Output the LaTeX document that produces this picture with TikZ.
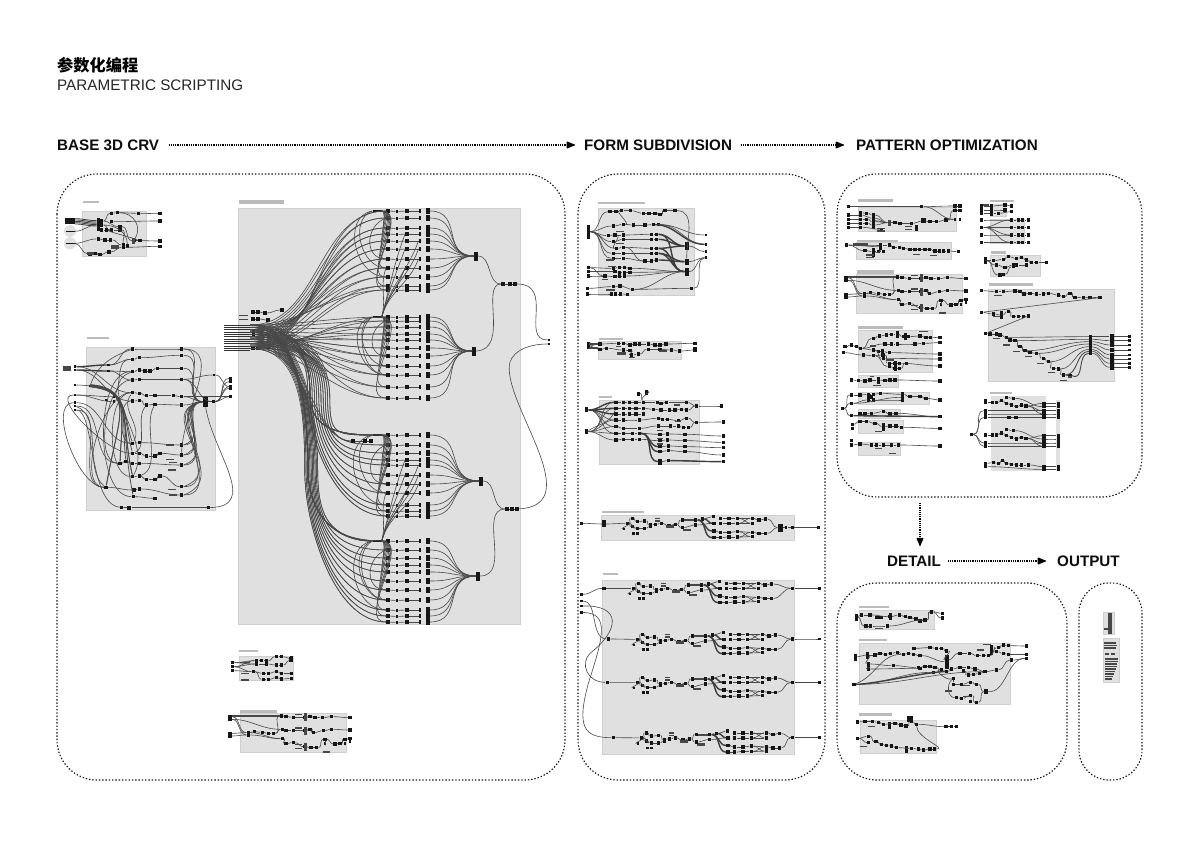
\documentclass[tikz,border=0pt]{standalone}
\usepackage{fontspec}
\setmainfont{Liberation Sans}
\newfontfamily\cjk{Noto Sans CJK SC}
\usetikzlibrary{arrows.meta}
\definecolor{frm}{HTML}{E0E0E0}
\definecolor{frl}{HTML}{CFCFCF}
\definecolor{ttl}{HTML}{BBBBBB}
\definecolor{wir}{HTML}{484848}
\definecolor{blk}{HTML}{161616}
\newcounter{barc}
\tikzset{
 gh/.style={rectangle,fill=blk,inner sep=0pt,minimum width=3.6pt,minimum height=3.6pt},
 ghs/.style={gh,minimum width=2.6pt,minimum height=2.6pt},
 wire/.style={draw=wir,line width=.6pt},
 wirek/.style={draw=wir!85!black,line width=1.4pt},
 panel/.style={draw=black!90,line width=1.15pt,dash pattern=on 1.4pt off 1.9pt,rounded corners=40pt},
 flow/.style={draw=black,line width=1.2pt,dash pattern=on 1pt off .8pt,-{Latex[length=10pt,width=8pt,round=false]}},
 head/.style={font=\bfseries\fontsize{15.2}{18}\selectfont,anchor=west,inner sep=0pt,text=black!95},
}
\newcommand\Row[2]{\foreach[count=\k] \xa/\ya in {#2}{\node[gh](#1\k) at (\xa,\ya){};\ifnum\k>1 \pgfmathtruncatemacro\kp{\k-1}\draw[wire](#1\kp) to[out=0,in=180](#1\k);\fi}}
\newcommand\G[2]{\foreach[count=\k] \xa/\ya in {#2}{\node[ghs](#1\k) at (\xa,\ya){};}}
\newcommand\T[5]{\node[gh,minimum width=#4pt,minimum height=#5pt](#1) at (#2,#3){};}
\newcommand\Ba[1]{\foreach \xa/\ya/\wa/\ha in {#1}{\stepcounter{barc}\node[gh,fill=black!72,minimum width=\wa pt,minimum height=\ha pt](bar\thebarc) at (\xa,\ya){};}}
\newcommand\Wr[1]{\foreach \pa/\qa in {#1}{\draw[wire](\pa) to[out=0,in=180](\qa);}}
\newcommand\Wk[1]{\foreach \pa/\qa in {#1}{\draw[wirek](\pa) to[out=0,in=180](\qa);}}
\newcommand\Wc[1]{\foreach \pa/\qa in {#1}{\draw[wire](\pa) to[out=180,in=180,looseness=.75](\qa);}}
\newcommand\Fr[4]{\fill[frm](#1,#2) rectangle (#3,#4);\draw[frl,line width=.5pt](#1,#2) rectangle (#3,#4);}
\newcommand\Tt[4]{\fill[ttl](#1,#2) rectangle (#3,#4);}
% input wire forms: #1 source, #2 target
\newcommand\InA[2]{\draw[wire](#1.east) to[out=0,in=180](#2.west);}
\newcommand\InC[2]{\pgfmathsetmacro\xv{332-2.2*\k}\draw[wire](#1.east) .. controls +(50,0) and +(0,-45) .. (\xv,398) .. controls +(0,40) and +(-50,0) .. (#2.west);}
\newcommand\InD[2]{\pgfmathsetmacro\xv{319-1.3*\k}\draw[wire](#1.east) .. controls +(50,0) and +(0,-60) .. (\xv,470) .. controls +(0,55) and +(-52,0) .. (#2.west);}
% big cluster
\newcommand\Cl[6]{%
 \T{#1h}{#2}{#3}{3.5}{9}
 \node[gh,minimum width=9pt,minimum height=1.2pt](#1f) at (377,#5){};
 \foreach[count=\k] \yy in {#6}{
  \node[gh](#1a\k) at (388,\yy){};
  \node[ghs](#1e\k) at (397,\yy+.5){};
  \node[gh](#1b\k) at (407,\yy){};
  \node[gh,minimum width=2.6pt,minimum height=4.8pt](#1c\k) at (420,\yy){};
  \node[gh,minimum width=3.6pt,minimum height=5.2pt](#1d\k) at (428,\yy){};
  \pgfmathtruncatemacro\kq{12-\k}
  #4{s\k}{#1a\k}
  #4{s\kq}{#1a\k}
  \draw[wire](#1f.east) to[out=0,in=180](#1a\k.west);
  \draw[wire](#1a\k)--(#1e\k); \draw[wire](#1e\k)--(#1b\k); \draw[wire](#1b\k)--(#1c\k);
  \draw[wire](#1d\k.east) to[out=0,in=180,looseness=1.35](#1h.west);
 }
 \draw[wire](#1f.west) to[out=190,in=180,looseness=1.2](#1a9.west);
 \draw[wire](#1f.west) to[out=200,in=180,looseness=1.1](#1a8.west);
 \draw[wire](#1a2.west) to[out=200,in=180,looseness=1.4](#1a7.west);
}
% repeated module of the form subdivision group
\newcommand\Mod[3]{\begin{scope}[shift={(#2,#3)},x=.33333pt,y=-.33333pt]
 \Row{#1a}{160/55,175/40,190/50,212/48,230/60,245/58,262/55,285/62,305/58,325/45,365/45,385/42,418/35}
 \Row{#1b}{175/65,190/70,212/70,230/65}
 \G{#1g}{150/72,178/85,190/85}
 \Ba{250/40/5/1.5,250/48/5/1.5,288/65/8/3,345/45/10/2,340/75/8/2.5}
 \Row{#1c}{325/68,365/60,420/55}
 \Row{#1d}{440/40,465/40,490/40,535/40,555/45,575/42}
 \Row{#1e}{440/55,465/55,490/55,535/55}
 \Row{#1f}{420/78,440/82,465/82,490/80,535/82,555/85,575/85}
 \Row{#1h}{420/98,440/98,465/96,490/96,535/95}
 \Wr{#1a1/#1b1,#1a1/#1b2,#1a1/#1g1,#1d3/#1e4,#1e3/#1d4,#1f4/#1h5,#1h4/#1f5,#1a9/#1c1}
 \Wk{#1a11/#1f1,#1a11/#1h1,#1a12/#1c3}
\end{scope}}
% triple row group (two places)
\newcommand\Tri[3]{\begin{scope}[shift={(#2,#3)},x=.33333pt,y=-.33333pt]
 \Fr{45}{220}{365}{338}
 \Ba{95/227/50/2}
 \Row{#1a}{15/230,170/228,183/230,205/232,240/232,255/230,270/232,292/233,320/230,375/233}
 \Row{#1b}{15/238,172/268,183/272,205/272,240/272,255/268,265/278,295/272,320/268,375/270}
 \Row{#1c}{15/280,70/278,88/275,112/277,130/280,145/280}
 \Row{#1d}{15/288,70/285,172/296,183/310,205/308,240/320,258/323,275/323,300/298,330/312,345/310,360/298,375/296}
 \G{#1e}{300/310,360/310,375/305}
 \Ba{240/232/3/8,240/272/3/8,240/320/3/8,220/224/7/1.5,220/264/7/1.5,220/314/7/1.5,220/326/7/1.5,305/337/7/2}
 \Wr{#1c6/#1a2,#1c6/#1b2,#1b1/#1d2,#1a1/#1c2,#1c2/#1d3}
 \draw[wire](#1e1) to[out=270,in=270,looseness=1.4](#1d9);
\end{scope}}
\begin{document}
\begin{tikzpicture}[x=1pt,y=-1pt]
\useasboundingbox (0,0) rectangle (1200,848);
\fill[white](0,0) rectangle (1200,848);
% titles
\node[font=\cjk\bfseries\fontsize{16.2}{18}\selectfont,anchor=west,inner sep=0pt](t0) at (57,65){参数化编程};
\node[font=\fontsize{15.25}{18}\selectfont,anchor=west,inner sep=0pt,text=black!85](t1) at (57,85.5){PARAMETRIC SCRIPTING};
\node[head](h1) at (57,145){BASE 3D CRV};
\node[head](h2) at (584,145){FORM SUBDIVISION};
\node[head](h3) at (856,145){PATTERN OPTIMIZATION};
\node[head](h4) at (887,561){DETAIL};
\node[head](h5) at (1057,561){OUTPUT};
\draw[flow,shorten <=10pt,shorten >=9pt](h1)--(h2);
\draw[flow,shorten <=9pt,shorten >=12pt](h2)--(h3);
\draw[flow,shorten <=7pt,shorten >=11pt](h4)--(h5);
\coordinate(v0) at (920,503);\coordinate(v1) at (920,546);
\draw[flow,line width=1.3pt,dash pattern=on 1.2pt off 1pt](v0)--(v1);
% panels
\draw[panel](57,174) rectangle (565,780);
\draw[panel](578,174) rectangle (825,780);
\draw[panel](837,174) rectangle (1142,497);
\draw[panel](837,583) rectangle (1067,780);
\draw[panel,rounded corners=30pt](1079,583) rectangle (1142,780);

% ---------- BASE 3D CRV, small groups
\begin{scope}[shift={(40,170)},x=.33333pt,y=-.33333pt]
 \Fr{127}{124}{318}{258}\Tt{128}{94}{176}{100}
 \fill[frm](90,183) circle[radius=6pt];\fill[frm](90,220) circle[radius=6pt];
 \T{ga}{90}{153}{10}{6}\T{gb}{90}{184}{9}{1.5}\T{gc}{90}{220}{9}{1.5}
 \T{gh}{175}{165}{3}{13}
 \foreach \yy in {146,150,154,158,162}{\draw[wirek,line width=.8pt](105,\yy) to[out=0,in=180](170,\yy+6);}
 \Row{ra}{185/153,240/170,282/212}
 \Row{rb}{185/165,215/180,240/180,262/228}
 \Row{rc}{185/180,200/180,215/180}
 \Row{rd}{175/207,195/210,212/210,250/225}
 \Row{re}{215/130,232/128,295/130,360/131}
 \Row{rf}{215/155,360/153}
 \Row{rg}{282/212,300/212,360/213}
 \Row{rh}{150/252,165/250,180/254,207/246,250/232,360/229}
 \Ba{225/230/8/4,282/212/3/6,150/252/7/3}
 \Wr{gb/gh,gc/rd1,gc/rh1,ra1/re1,ra3/rb2}
 \draw[wire](re2) to[out=0,in=60,looseness=1.2](ra3);
 \draw[wire](rb1) to[out=0,in=90](rb4);
\end{scope}

% ---------- BASE 3D CRV, second group
\begin{scope}[shift={(40,170)},x=.33333pt,y=-.33333pt]
 \Fr{139}{531}{527}{1020}\Tt{142}{502}{208}{508}
 \Ba{80/591/8/1.5,80/597/8/1.5,80/602/8/1.5}
 \G{i}{105/590,105/600,205/585,205/603,105/645,105/675,105/698,105/708,105/720,168/648,222/680,222/695,150/648,200/690}
 \Row{ta}{278/537,425/537}
 \Row{tb}{278/568,298/563,425/556}
 \Row{tc}{278/605,298/600,315/603,330/603,352/595,425/595}
 \Row{td}{278/630,298/628,425/628}
 \Row{te}{278/668,298/670,320/677,345/677,400/677,425/680}
 \Row{tf}{278/693,298/692,320/705,345/703,425/705}
 \Row{ba}{278/820,298/818,425/825}
 \Row{bb}{278/850,298/850,320/858,345/858,360/850,425/855}
 \Row{bc}{240/880,258/875,278/880,298/880,425/885}
 \Row{bd}{278/920,298/918,320/928,345/928,360/918,425/950}
 \Row{be}{198/952,282/960,298/957,425/975}
 \Row{bf}{280/980,345/985}
 \Ba{390/825/8/1.5,390/868/8/1.5,400/878/8/1.5,395/900/8/1.5,395/958/8/1.5,398/975/8/1.5}
 \T{gk}{497}{695}{5}{11}
 \T{bt}{268}{1013}{4}{4}
 \G{u}{245/1012,505/1013,520/695,572/625,572/635,572/650,572/655,572/680,522/615}
 \Wk{i1/i3,i2/i4}
 \Wr{i3/ta1,i3/tb1,i4/tc1,i4/td1,i5/i10,i6/i11,i6/i12,i7/ba1,i8/bc1,i9/be1,i1/te1,i2/tf1}
 \foreach \dd/\tt in {0/ba1,2/bb1,4/bc1,6/bc1,8/bc2,10/bd1,12/bd1,14/be1,16/be1,18/bf1}{
  \draw[wire,line width=.75pt](150,644+\dd*.35) .. controls ({265+\dd*1.5},{650+\dd}) and ({250-\dd},{740}) .. (\tt);}
 \foreach \tt in {ta2,tb3,tc6,td3,ba3,bb6,bc5,bd6,be4,te6,tf5}{\draw[wire](\tt) to[out=0,in=180,looseness=1.2](gk.west);}
 \foreach \tt in {ba3,bb6,bc5,bd6,be4}{\draw[wire](\tt.east) to[out=20,in=190,looseness=1.5](gk.west);}
 \Wr{td3/u3,gk/u3,u3/u4,u3/u5,u3/u6,u3/u7,u3/u8,td3/u9,u9/u6,te6/u8}
 \Wc{be1/te1,bd1/te1,bf1/tc1,bc1/td1,ba1/tf1,be1/i7,bb1/i6}
 \draw[wire](gk.south) .. controls (520,850) and (660,1010) .. (u2);
 \draw[wire](u2)--(bt);\draw[wire](bt)--(u1);
 \draw[wire](i9) .. controls (165,720) and (145,1005) .. (u1);
 \draw[wire](i8) .. controls (190,740) and (130,900) .. (be1);
 \draw[wire](ta1) to[out=200,in=70](i13);
 \draw[wire](tb1) to[out=180,in=60](i11);
 \draw[wire](ta2) to[out=0,in=90](bb6);
 \draw[wire](tc1) to[out=200,in=60](bd1);
 \draw[wire](te1) to[out=230,in=60](ba1);
 \draw[wire](tf3) to[out=230,in=20,looseness=.8](bb1);
 \draw[wire](tf4) to[out=240,in=20,looseness=.8](bd2);
\end{scope}

% ---------- big group
\Fr{238}{208}{520}{624}\Tt{239}{200}{284}{204}
\foreach \k in {1,...,12}{\pgfmathsetmacro\ys{325+(\k-1)*2.35}\node[gh,fill=black!80,minimum width=26pt,minimum height=.9pt](s\k) at (237,\ys){};}
\Row{sa}{253/312,258/312,265/313,282/310}
\Row{sb}{253/319,258/319,268/320}
\T{sc}{253}{333}{3}{7}
\Row{sd}{253/348,258/348,268/347}
\Ba{243/315/9/1,243/319/9/1}
\Cl{ca}{476}{256}{\InA}{211}{211,218,228,234,241,249,259,268,277,286,290}
\Cl{cb}{474}{351}{\InA}{317}{317,321,327,334,340,348,356,366,375,387,398}
\Cl{cc}{481}{481}{\InC}{435}{435,445,453,460,465,475,484,493,505,511,516}
\Cl{cd}{478}{576}{\InD}{541}{541,550,558,565,572,581,590,600,610,616,622}
\foreach \uu/\vv in {cbf/caa8,cbf/cab8,cbf/cac7,cbf/cac6,cbf/cab6,cbf/cac5,cbf/cab4}{\draw[wire](\uu.east) to[out=75,in=250](\vv.west);}
\foreach \uu/\vv in {cdf/cca8,cdf/ccb8,cdf/ccc7,cdf/ccc6,cdf/ccb6,cdf/ccc5,cdf/ccb4}{\draw[wire](\uu.east) to[out=75,in=250](\vv.west);}
\Row{xa}{353/441,365/441,371/441}
\draw[wire](s8.east) .. controls +(50,0) and +(-40,0) .. (xa1);
\draw[wire](s3.east) .. controls +(50,0) and +(-40,0) .. (xa1);
\foreach \rr in {1,2,3,4}{\draw[wire,line width=.8pt](s\rr.east) .. controls +(50,0) and +(0,-60) .. (308,470) .. controls +(0,40) and +(-40,0) .. (cdf.west);}
\foreach \rr in {5,6,7,8}{\draw[wire,line width=.8pt](s\rr.east) .. controls +(50,0) and +(0,-40) .. (310,395) .. controls +(0,30) and +(-40,0) .. (ccf.west);}
\draw[wire](cdf.west) to[out=210,in=180,looseness=1](cda8.west);
\draw[wire](cbf.west) to[out=215,in=180,looseness=1](cba9.west);
% merge nodes and long wires
\Row{ma}{503/284,510/284,515/284}
\Row{mb}{507/509,512/509,517/509}
\G{me}{549/340,549/344}
\draw[wire](cah) to[out=0,in=180](ma1);
\draw[wire](ma3) .. controls (555,284) and (520,340) .. (me1);
\draw[wire](cbh.east) .. controls (510,350) and (480,284) .. (ma1);
\draw[wire](cch) to[out=0,in=180](mb1);
\draw[wire](cdh.east) .. controls (512,576) and (478,509) .. (mb1);
\draw[wire](mb3) .. controls (590,505) and (500,400) .. (510,362) .. controls (514,350) and (530,344) .. (me2);

\begin{scope}[shift={(225,640)},x=.33333pt,y=-.33333pt]
 \Fr{42}{48}{205}{122}\Tt{42}{30}{100}{37}
 \Ba{60/68/10/1.5,60/120/8/1.5,60/100/8/1.5}
 \Row{ka}{22/68,95/62,110/62,125/62,155/50,170/50,198/55}
 \Row{kb}{22/80,95/72,125/72,155/75,170/75,198/62}
 \Row{kc}{22/92,85/95,115/100,130/100,155/95,170/100,200/100}
 \Row{kd}{115/118,130/118,155/113,170/117,200/115}
 \T{kt}{95}{65}{3}{6}\T{ku}{198}{56}{3}{5}
 \Wr{ka1/kb2,kb1/kc2,kb1/ka2,kc2/kd1}
\end{scope}
\Tt{240}{710}{277}{714}
\Tri{ta}{225}{640}

% ---------- FORM SUBDIVISION
\begin{scope}[shift={(580,190)},x=.33333pt,y=-.33333pt]
 \Fr{54}{55}{342}{315}\Tt{55}{35}{195}{41}
 \T{fL}{25}{125}{3.5}{14}
 \T{fA}{320}{168}{4}{8}\T{fB}{320}{215}{4}{6}\T{fC}{320}{245}{4}{8}
 \Row{fa}{90/65,108/65,125/62,152/62,190/70,207/70,225/70,240/73,255/62,285/62}
 \Row{fb}{100/108,130/103,160/105,195/105,220/104,235/104}
 \Row{fc}{85/137,105/135,130/135,215/133,230/133}
 \Row{fd}{100/155,130/148,215/148,230/148}
 \Row{fe}{110/175,130/172,215/175,230/175}
 \Row{ff}{100/190,130/190,215/190,230/190}
 \Row{fg}{100/205,130/205,195/213,215/213,230/210}
 \Row{fh}{25/233,100/235,118/232,133/233,150/235}
 \Row{fi}{25/245,105/245,118/247,133/247,150/247}
 \Row{fj}{25/258,75/258,105/260,118/258,133/258}
 \Row{fk}{22/295,100/290,120/288,157/298,335/295}
 \Row{fl}{22/312,95/312,107/312,122/312,143/313}
 \Ba{120/125/8/1.5,120/160/8/1.5,90/210/8/1.5,95/230/8/1.5,75/268/6/1.5,90/300/9/1.5}
 \G{fo}{378/135,378/163,378/185,378/203}
 \Wk{fc5/fA,fd4/fA,fe4/fA,ff4/fC,fg5/fB,fc5/fC,fe4/fC,ff4/fB}
 \Wr{fL/fa1,fL/fb1,fL/fc1,fL/fd1,fL/fe1,fL/ff1,fL/fg1,fb6/fo1,fb6/fo2,fA/fo3,fB/fo4,fC/fo4,fh5/fC,fi5/fC,fj5/fC,fk4/fC,fb2/fa3,fc2/fe1,fe2/fg3,fh1/fj2}
 \Wk{fb5/fo2}
 \draw[wire](fa10) to[out=0,in=90](fB);
 \draw[wire](fk5) .. controls (375,295) and (340,210) .. (fo4);
 % second
 \Fr{55}{455}{304}{507}\Tt{58}{445}{130}{451}
 \T{gL}{25}{468}{3.5}{7}\T{gE}{345}{480}{3.5}{5}
 \Row{ga}{60/462,115/460,130/460,150/465,165/462,178/462,205/462,225/465,240/465,258/462,345/460}
 \Row{gb}{60/478,80/475,130/480,150/482,155/495,175/492,205/478,240/478,275/480,298/483}
 \Ba{115/470/5/1.5,125/490/9/3,155/503/6/1.5,250/483/8/1.5,40/462/9/2,40/474/9/2}
 \Wr{gL/ga1,gL/gb1,gb10/gE}
 % third
 \Fr{57}{630}{358}{823}\Tt{58}{617}{95}{623}
 \T{hL}{20}{660}{3.5}{5}\T{hM}{20}{725}{3.5}{5}
 \Row{pa}{108/637,130/637,148/637,168/637,190/637,232/637,243/640,260/637,320/637,350/648,425/648}
 \Row{pb}{108/655,130/655,148/655,168/655,190/655,220/658,243/660,268/660,285/660,305/658,320/660}
 \Row{pc}{108/672,130/672,148/672,168/672,190/672}
 \Row{pd}{108/690,130/690,178/690,235/685,248/688,262/688,295/692,320/685,350/697,430/696}
 \Row{pe}{108/710,130/715,178/715,235/708,272/708,295/708,310/712,325/712}
 \Row{pf}{108/730,130/730,158/730,178/730,240/733,262/732,315/733,430/738}
 \Row{pg}{108/750,130/748,158/748,178/748,240/752,262/750,315/752,430/757}
 \Row{ph}{240/770,265/768,315/770,430/773}
 \Row{pi}{240/785,265/782,315/785,430/795}
 \T{pj}{240}{815}{4}{6}
 \Row{pk}{265/812,430/815}
 \G{pt}{175/610,200/604,200/612,175/615}
 \Ba{290/645/6/1.5,295/695/6/1.5,240/722/6/1.5,240/745/6/1.5,240/762/6/1.5}
 \Wk{hL/pa1,hL/pb1,hL/pc1}
 \Wr{hL/pd1,hL/pe1,hL/pf1,hM/pa1,hM/pb1,hM/pd1,hM/pe1,hM/pf1,hM/pg1,pb11/pa10,pe8/pd9,pj/pk1}
 \Wk{pf4/ph1,pf4/pi1,pf4/pj,pk1/pk2}
 \draw[wire](pb1) .. controls (90,700) and (60,700) .. (hM);
 \draw[wire](pa5) to[out=120,in=0](pt1);\draw[wire](pa5) to[out=120,in=0](pt2);
\end{scope}

% repeated rows
\begin{scope}[shift={(580,190)},x=.33333pt,y=-.33333pt]
 \Fr{65}{977}{642}{1052}\Tt{65}{963}{192}{970}
 \G{qa}{5/1000,715/1013}
 \T{qb}{72}{1002}{3.5}{7}
 \T{qc}{600}{1013}{5}{8}
 \G{qd}{618/1013,638/1013}
\end{scope}
\Mod{mo}{574}{505}
\begin{scope}[shift={(580,190)},x=.33333pt,y=-.33333pt]
 \Wr{qa1/qb,qb/moa1,mod6/qc,mof7/qc,qc/qd1,qd1/qd2,qd2/qa2}
\end{scope}
\begin{scope}[shift={(580,570)},x=.33333pt,y=-.33333pt]
 \Fr{67}{30}{642}{553}\Tt{68}{10}{115}{15}
 \G{lf}{5/73,5/93,5/108,5/127}
 \T{sta}{72}{55}{3.5}{3.5}\T{stb}{85}{207}{3.5}{3.5}\T{stc}{82}{337}{3.5}{3.5}\T{std}{100}{503}{3.5}{3.5}
 \T{hba}{638}{55}{3.5}{3.5}\T{hbb}{638}{207}{3.5}{3.5}\T{hbc}{638}{337}{3.5}{3.5}\T{hbd}{638}{503}{3.5}{3.5}
 \G{ena}{718/55,718/207,718/337,718/503}
\end{scope}
\Mod{ma}{580}{570}\Mod{mb}{584}{621}\Mod{mc}{584}{664}\Mod{md}{588}{719.5}
\begin{scope}[shift={(580,570)},x=.33333pt,y=-.33333pt]
 \Wr{lf1/sta,sta/maa1,stb/mba1,stc/mca1,std/mda1,mad6/hba,maf7/hba,mbd6/hbb,mbf7/hbb,mcd6/hbc,mcf7/hbc,mdd6/hbd,mdf7/hbd,hba/ena1,hbb/ena2,hbc/ena3,hbd/ena4}
 \draw[wire](lf2) .. controls (55,95) and (30,205) .. (stb);
 \draw[wire](lf3) .. controls (125,105) and (120,180) .. (30,250) .. controls (0,280) and (20,337) .. (stc);
 \draw[wire](lf4) .. controls (90,130) and (70,200) .. (25,340) .. controls (-10,470) and (10,503) .. (std);
\end{scope}

% ---------- PATTERN OPTIMIZATION
\begin{scope}[shift={(840,190)},x=.33333pt,y=-.33333pt]
 \Fr{55}{52}{350}{125}\Tt{55}{28}{160}{36}
 \T{aT}{100}{92}{3}{16}\T{aB}{250}{93}{5}{5}\T{aC}{228}{115}{3}{6}
 \Row{aa}{25/50,245/50,345/48,360/48}
 \Row{ab}{25/75,62/75,100/85}
 \Row{ac}{25/88,62/88,80/88,100/95}
 \Row{ad}{25/100,62/100,80/100,100/105}
 \Row{ae}{25/112,62/112,125/118}
 \Row{af}{148/98,165/98,180/100,215/100,250/93,270/95,290/95,318/90,345/62,360/62}
 \Row{ag}{62/68,80/70,100/75}
 \G{ah}{345/88,360/88}
 \Ba{122/115/8/1.5,122/123/8/1.5,205/110/7/1.5,205/118/7/1.5,148/98/3/6}
 \Wr{aT/af1,ab3/af1,ac4/af1,ad4/af1,ag3/af1,af8/ah1,aa2/ah1}
 \draw[wire](af9) to[out=90,in=0](aa3);
 % 2
 \Fr{48}{157}{333}{207}\Tt{50}{150}{175}{155}
 \T{cT}{122}{170}{3.5}{7}\T{cU}{100}{188}{3.5}{9}
 \Ba{60/165/15/3,90/195/8/1.5,90/203/8/1.5,228/193/7/1.5,280/197/7/1.5}
 \Row{ca}{20/165,122/165,148/165,160/172,178/172,190/175,210/178,225/178,238/178,255/178,268/178,285/183,298/183,310/183,325/183,355/185}
 \Row{cb}{75/182,100/185,115/185,130/185}
 \Wr{ca1/cb1}
 \draw[wire](cU) to[out=0,in=270](cT);
 \draw[wire](ca1) to[out=0,in=180](cT);
 % 4
 \Fr{55}{422}{278}{547}\Tt{55}{408}{188}{416}
 \Row{da}{15/470,35/465,50/470,62/475,100/480,115/485,128/485,148/488,300/492}
 \Row{db}{10/488,70/495,100/497,130/495,148/520,165/520,178/520,300/528}
 \Row{dc}{100/445,118/438,140/435,155/433,172/433,190/440,205/440,240/438,258/442,272/442,300/443}
 \Row{dd}{135/462,155/462,172/462,225/462,250/460,300/458}
 \Row{de}{130/505,300/507}
 \Row{df}{148/530,165/535,178/535,200/520}
 \T{dT}{172}{435}{3}{7}\T{dU}{195}{440}{3}{7}\T{dV}{128}{488}{3}{8}\T{dW}{165}{527}{3}{10}
 \Ba{250/425/9/1.5,100/468/6/1.5,150/510/8/1.5}
 \Wr{da4/dc1,da4/dd1,da5/de1,db3/df1}
 % 5
 \Fr{55}{557}{175}{593}
 \Row{ea}{35/570,55/572,75/573,90/570,115/570,135/572,150/570,165/570,300/573}
 \T{eT}{115}{572}{3}{7}\Ba{110/587/8/1.5,95/560/4/1.5}
 % 6-9
 \Fr{55}{608}{267}{642}\Fr{55}{658}{180}{685}\Fr{55}{692}{190}{730}\Fr{55}{757}{180}{795}
 \G{hn}{8/655,35/615,35/640}
 \Row{ja}{35/615,60/615,85/613,100/613,122/610,188/613,210/620,240/620,258/625,300/630}
 \Row{jb}{35/640,85/630,100/630,188/630}
 \T{jT}{188}{622}{3}{10}\T{jU}{90}{620}{6}{4}
 \Row{jc}{60/672,75/672,95/670,130/665,150/672,168/670}
 \Row{jd}{35/677,300/680}
 \draw[wirek](jd1)--(jd2);
 \Row{je}{38/703,60/695,80/695,105/700,130/710,150/708,168/708,185/712,300/715}
 \G{jf}{38/716,35/752}
 \T{jg}{130}{712}{3}{8}
 \Row{jh}{35/765,60/762,95/765,110/765,130/765,155/765,175/765,300/768}
 \Ba{115/775/7/1.5,158/790/7/1.5,115/725/7/1.5}
 \draw[wire](hn1) to[out=0,in=180](ja1);\draw[wire](hn1) to[out=0,in=180](jd1);\draw[wire](hn1) to[out=0,in=180](jb1);
 \Wr{jb1/jT,jc6/jd2}
 % right column
 \Fr{450}{44}{500}{78}\Tt{450}{30}{523}{36}
 \Ba{435/46/8/2}
 \Row{na}{425/48,455/48,495/45,515/48}
 \Row{nb}{425/60,455/60,495/60}
 \Row{nc}{425/70,455/70,475/70,515/65}
 \T{nT}{455}{62}{3.5}{10}
 \Fr{450}{88}{552}{160}
 \foreach \ll/\yy in {a/90,b/112,c/135,d/157}{
  \Row{o\ll}{425/\yy,515/\yy,535/\yy,548/\yy,565/\yy}}
 \draw[wire](ob1) to[out=0,in=180](oa2);\draw[wire](ob1) to[out=0,in=180](oc2);\draw[wire](ob1) to[out=0,in=180](od2);
 \Fr{450}{195}{600}{260}\Tt{453}{183}{498}{191}
 \T{rT}{435}{212}{3}{7}
 \Row{ua}{460/212,490/208,505/200,530/205,545/203,560/210,575/218,590/218,620/218}
 \Row{ub}{470/225,495/232,520/225,530/225,560/225}
 \Row{uc}{480/255,490/253,520/230}
 \Wr{rT/ua1,rT/ub1,rT/uc1}
 % large stair group
 \Fr{445}{297}{822}{574}\Tt{446}{280}{580}{288}
 \Row{va}{425/302,470/305,490/305,525/303,540/305,552/312,570/310,590/312,610/312,625/310,655/315,670/320,690/310,705/322,730/323,750/322,780/323}
 \Row{vb}{425/367,460/372,485/375,505/365,520/380,535/380,550/380,565/378}
 \T{vT}{485}{375}{3}{8}
 \Ba{475/317/8/1.5,470/380/7/1.5}
 \Row{vc}{437/430,450/432,470/432,480/435,500/442,510/450,525/452,540/470,555/482,570/488,590/490,610/505,625/515,640/535,655/537,670/555,690/557}
 \Ba{470/445/7/1.5,500/465/7/1.5,530/485/7/1.5,565/500/7/1.5,600/520/7/1.5,635/548/7/1.5,670/572/7/1.5,690/562/4/2}
 \draw[wire](va17)--(vb1);\draw[wire](vb8)--(vc1);
 \foreach[count=\m] \yy/\zz in {440/440,448/452,455/465,462/480,470/495,478/507,484/520,490/532}{
  \T{vk\m}{752}{\yy}{3}{3}\T{vm\m}{815}{\zz}{4}{4.5}\node[ghs](vo\m) at (868,\zz){};
  \draw[wire](vk\m) to[out=0,in=180,looseness=.9](vm\m);\draw[wire,line width=.8pt](vm\m)--(vo\m);}
 \Wr{vc5/vk1,vc7/vk2,vc9/vk3,vc11/vk4,vc13/vk5,vc15/vk6}
 \draw[wire,line width=.9pt](vc16) to[out=0,in=180,looseness=1](vk7);
 \draw[wire,line width=.9pt](vc17.east) .. controls (735,575) and (710,490) .. (vk8);
 % crossed group
 \fill[frm](452,618) rectangle (618,843);\fill[frm](648,630) rectangle (660,843);\Tt{450}{605}{517}{611}
 \G{wr}{395/733,437/632,437/820,437/830}
 \foreach \ll/\oo in {a/0,b/97}{
  \pgfmathtruncatemacro\ra{638+\oo}\pgfmathtruncatemacro\rb{632+\oo}\pgfmathtruncatemacro\rc{640+\oo}\pgfmathtruncatemacro\rd{645+\oo}\pgfmathtruncatemacro\re{650+\oo}\pgfmathtruncatemacro\rf{648+\oo}\pgfmathtruncatemacro\rg{622+\oo}\pgfmathtruncatemacro\rh{625+\oo}\pgfmathtruncatemacro\ri{662+\oo}\pgfmathtruncatemacro\rj{672+\oo}
  \Row{w\ll a}{437/\ra,458/\ra,470/\ra,485/\rb,500/\rc,515/\rd,530/\re,545/\rd,558/\rf,612/\rc,655/\rc}
  \Row{w\ll b}{500/\rg,520/\rh,612/\re,655/\re}
  \Row{w\ll c}{437/\ri,612/\ri,655/\ri}
  \Row{w\ll d}{437/\rj,612/\rj,655/\rj}
  \Wr{w\ll a9/w\ll c2,w\ll a9/w\ll d2}}
 \Row{wcy}{437/683,507/683,528/683,612/683,655/683}
 \Row{wda}{437/820,460/818,475/820,487/812,500/820,515/823,530/825,545/825,565/825,612/830,655/830}
 \Row{wdb}{437/830,612/838,655/838}
 \draw[wire](wr1) to[out=0,in=180](wcy1);\draw[wire](wr1) to[out=0,in=180](wbd1);
 \draw[wire](wr1) to[out=0,in=180](wac1);\draw[wire](wr1) to[out=0,in=180](wbc1);
\end{scope}
\Tri{tb}{841}{201}
\Tt{857}{270}{893.5}{274}

% ---------- DETAIL
\begin{scope}[shift={(840,595)},x=.33333pt,y=-.33333pt]
 \Fr{58}{47}{282}{103}\Tt{58}{32}{147}{38}
 \T{xT}{48}{66}{3}{7}\T{xU}{150}{65}{3}{7}\T{xV}{118}{68}{8}{3}
 \Row{xa}{65/60,90/60,150/65,178/60,197/65,210/68,228/72,240/78,255/75,275/50,308/55}
 \Row{xb}{78/93,92/93,142/93,255/75,275/52,308/69}
 \Ba{118/100/8/1.5}
 \Wr{xT/xa1,xT/xb1}
 \Fr{58}{145}{510}{328}\Tt{58}{132}{142}{138}
 \T{yT}{45}{186}{3}{7}\T{yU}{83}{180}{3}{7}\T{yV}{85}{215}{3}{8}\T{yW}{320}{200}{4}{14}\T{yX}{455}{165}{3}{9}
 \Row{ya}{105/180,120/175,137/178,152/175,172/172,190/178,205/175,220/178,240/182}
 \Row{yb}{222/160,270/158,290/160,305/160,320/168,320/195}
 \Row{yc}{85/207,160/212,235/218,255/215,270/215,285/218,305/225,320/230,335/222,360/218,385/218,405/222,435/230}
 \Row{yd}{85/222,240/220}
 \Row{ye}{320/195,360/175,388/175,412/182,430/182,445/182,475/158,490/150,505/152,560/153}
 \Row{yf}{455/155,470/170,490/175,505/178,560/178}
 \Row{yg}{370/228,385/240,400/238,418/235,435/230,470/225,515/195,560/190}
 \Row{yh}{42/268,280/232}
 \draw[wirek](yh1) to[out=0,in=180,looseness=.5](yc8);
 \draw[wire](yh1) to[out=0,in=180](yg5);
 \draw[wire](yh1) to[out=20,in=180](ya6);
 \Row{yi}{340/268,365/268,392/262,410/268}
 \Row{yj}{350/308,365/310,392/302,410/322}
 \G{yk}{340/250,392/320,560/190}
 \T{yH}{437}{290}{4}{4.5}
 \Ba{325/288/7/1.5,380/272/7/1.5,380/305/7/1.5,440/148/8/1.5,420/165/7/1.5}
 \Wr{yT/yU,yU/ya1,yU/yc1,yV/yd1,ya9/yW,yi4/yH,yj4/yH}
 \draw[wire](yk1) to[out=200,in=180](yc7);
 \draw[wire](yk1)--(yi1);
 \draw[wire](yk1) to[out=220,in=180](yj1);
 \draw[wire](yH.east) .. controls (500,295) and (500,190) .. (yk3);
 \Fr{62}{375}{288}{475}\Tt{58}{355}{157}{362}
 \T{zT}{205}{372}{3}{6}\T{zU}{215}{372}{3}{6}\T{zV}{148}{392}{3}{7}\T{zW}{198}{463}{3}{7}
 \Row{za}{52/381,75/380,98/380,115/382,130/388,165/385,183/390,198/393,215/380,230/388,318/395,335/395,350/395}
 \Row{zb}{52/430,85/424,108/440,125/448,140/452,155/453,170/458,215/460,235/462,250/465,270/462,283/462}
 \G{zc}{85/443}
 \Ba{95/394/7/1.5,70/455/7/1.5}
 \draw[wire](zb12) to[out=0,in=-90](za10);
 \draw[wire](zb1) to[out=0,in=180](zc1);
\end{scope}
% ---------- OUTPUT
\Fr{1103}{612}{1114}{634}\Fr{1103}{638}{1119}{682}
\Ba{1110/623/4.5/21,1106/629/4/2,1110/643/12/1.8,1110/645.5/13/1.8,1110/648/12/1.8,1107/654/4/2,1113/654/4/2}
\foreach \yy/\ww in {659/13,661.5/13,664/12,666.5/12,669/11,671.5/10,674/9,676.5/8,679/7}{\Ba{1105+.5*\ww/\yy/\ww/1.8}}
\end{tikzpicture}
\end{document}
